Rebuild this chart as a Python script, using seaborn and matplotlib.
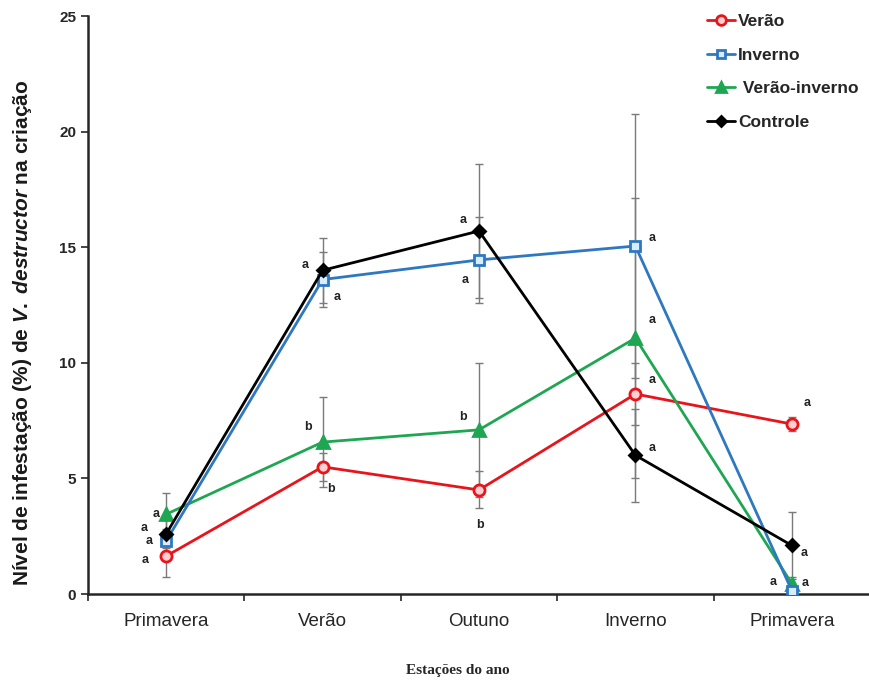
import numpy as np
import pandas as pd
import seaborn as sns
import matplotlib.pyplot as plt
from matplotlib.lines import Line2D
from matplotlib.ticker import FixedLocator

sns.set_style("ticks")
plt.rcParams['font.family'] = ['Liberation Sans', 'DejaVu Sans']
plt.rcParams['mathtext.fontset'] = 'custom'
plt.rcParams['mathtext.it'] = 'Liberation Sans:italic:bold'
plt.rcParams['mathtext.rm'] = 'Liberation Sans:bold'

seasons = ["Primavera", "Verão", "Outuno", "Inverno", "Primavera"]
series = ["Verão", "Inverno", "Verão-inverno", "Controle"]

verao = [1.64, 5.5, 4.5, 8.65, 7.35]
inverno = [2.3, 13.6, 14.45, 15.05, 0.15]
verao_inverno = [3.45, 6.57, 7.1, 11.07, 0.45]
controle = [2.6, 14.0, 15.7, 6.0, 2.1]

err_verao = [0.9, 0.6, 0.8, 1.35, 0.3]
err_inverno = [0.5, 1.2, 1.85, 5.7, 0.15]
err_verao_inverno = [0.9, 1.95, 2.9, 6.05, 0.3]
err_controle = [0.6, 1.4, 2.9, 2.0, 1.45]

let_verao = ["a", "b", "b", "a", "a"]
let_inverno = ["a", "a", "a", "a", "a"]
let_verao_inverno = ["a", "b", "b", "a", "a"]
let_controle = ["a", "a", "a", "a", "a"]

values = {"Verão": verao, "Inverno": inverno, "Verão-inverno": verao_inverno, "Controle": controle}
errors = {"Verão": err_verao, "Inverno": err_inverno, "Verão-inverno": err_verao_inverno, "Controle": err_controle}
letters = {"Verão": let_verao, "Inverno": let_inverno, "Verão-inverno": let_verao_inverno, "Controle": let_controle}

# letter offsets in pixels (dx, dy)
offsets = {
    "Verão": [(-21, -4), (8, -22), (1, -35), (17, 14), (15, 21)],
    "Inverno": [(-17, 0), (15, -17), (-14, -20), (17, 8), (13, 8)],
    "Verão-inverno": [(-10, 0), (-15, 15), (-16, 13), (17, 18), (-19, 2)],
    "Controle": [(-22, 6), (-17, 5), (-16, 11), (17, 7), (12, -8)],
}

styles = {
    "Verão": dict(color="#e8141c", marker="o", mfc="#ffd0d0", ms=8),
    "Inverno": dict(color="#2e78c0", marker="s", mfc="#d8ecff", ms=7),
    "Verão-inverno": dict(color="#1fa653", marker="^", mfc="#1fa653", ms=8),
    "Controle": dict(color="black", marker="D", mfc="black", ms=6.5),
}

x = np.arange(len(seasons))
rows = []
for s in series:
    for i in x:
        rows.append({"pos": i, "serie": s, "valor": values[s][i], "erro": errors[s][i]})
df = pd.DataFrame(rows)

fig = plt.figure(figsize=(8.7, 6.88), dpi=100)
ax = fig.add_axes([88 / 870, 94 / 688, 782 / 870, 578 / 688])

for s in series:
    d = df[df.serie == s]
    ax.errorbar(d.pos, d.valor, yerr=d.erro, fmt="none", ecolor="#7a7a7a",
                elinewidth=1, capsize=3, capthick=1, zorder=1)

draw_order = ["Verão", "Verão-inverno", "Inverno", "Controle"]
for k, s in enumerate(draw_order):
    st = styles[s]
    d = df[df.serie == s]
    sns.lineplot(data=d, x="pos", y="valor", ax=ax, color=st["color"], marker=st["marker"],
                 markersize=st["ms"], markerfacecolor=st["mfc"], markeredgecolor=st["color"],
                 markeredgewidth=2, linewidth=2, sort=False, legend=False, zorder=3 + k)

for s in series:
    for i in x:
        ax.annotate(letters[s][i], (i, values[s][i]), xytext=offsets[s][i],
                    textcoords="offset pixels", ha="center", va="center",
                    fontsize=9, fontweight="bold", color="#222222", zorder=10)

ax.set_xlim(-0.5, 4.5)
ax.set_ylim(0, 25)
ax.set_yticks([0, 5, 10, 15, 20, 25])
ax.tick_params(axis="y", labelsize=11, width=1.2, length=5, direction="out")
for t in ax.get_yticklabels():
    t.set_fontweight("bold")

ax.xaxis.set_major_locator(FixedLocator([-0.5, 0.5, 1.5, 2.5, 3.5]))
ax.xaxis.set_minor_locator(FixedLocator(list(x)))
ax.set_xticklabels([])
ax.set_xticklabels(seasons, minor=True)
ax.tick_params(axis="x", which="major", length=5, width=1.2, direction="out")
ax.tick_params(axis="x", which="minor", length=0, labelsize=13.5, pad=14)

ax.set_xlabel("Estações do ano", family=["Liberation Serif"], fontweight="bold",
              fontsize=11)
ax.xaxis.set_label_coords((458 - 88) / 782, -(664 - 594) / 578)
ax.set_ylabel(r"Nível de infestação (%) de $\it{V.\ destructor}$ na criação",
              fontsize=15, fontweight="bold", color="#1a1a1a")
ax.yaxis.set_label_coords(-(88 - 34) / 782, (594 - 333) / 578)

sns.despine(ax=ax)
ax.spines["left"].set_linewidth(1.8)
ax.spines["bottom"].set_linewidth(1.8)

handles = [Line2D([0], [0], color=styles[s]["color"], marker=styles[s]["marker"],
                  markersize=styles[s]["ms"] - 1, markerfacecolor=styles[s]["mfc"],
                  markeredgecolor=styles[s]["color"], markeredgewidth=2, linewidth=2)
           for s in series]
labels = ["Verão", "Inverno", " Verão-inverno", "Controle"]
leg = ax.legend(handles, labels, loc="upper right", bbox_to_anchor=(1.005, 1.03), frameon=False,
                handlelength=1.6, handletextpad=0.15, labelspacing=1.05,
                prop={"weight": "bold", "size": 12.5})

fig.savefig("out.png", dpi=100)
